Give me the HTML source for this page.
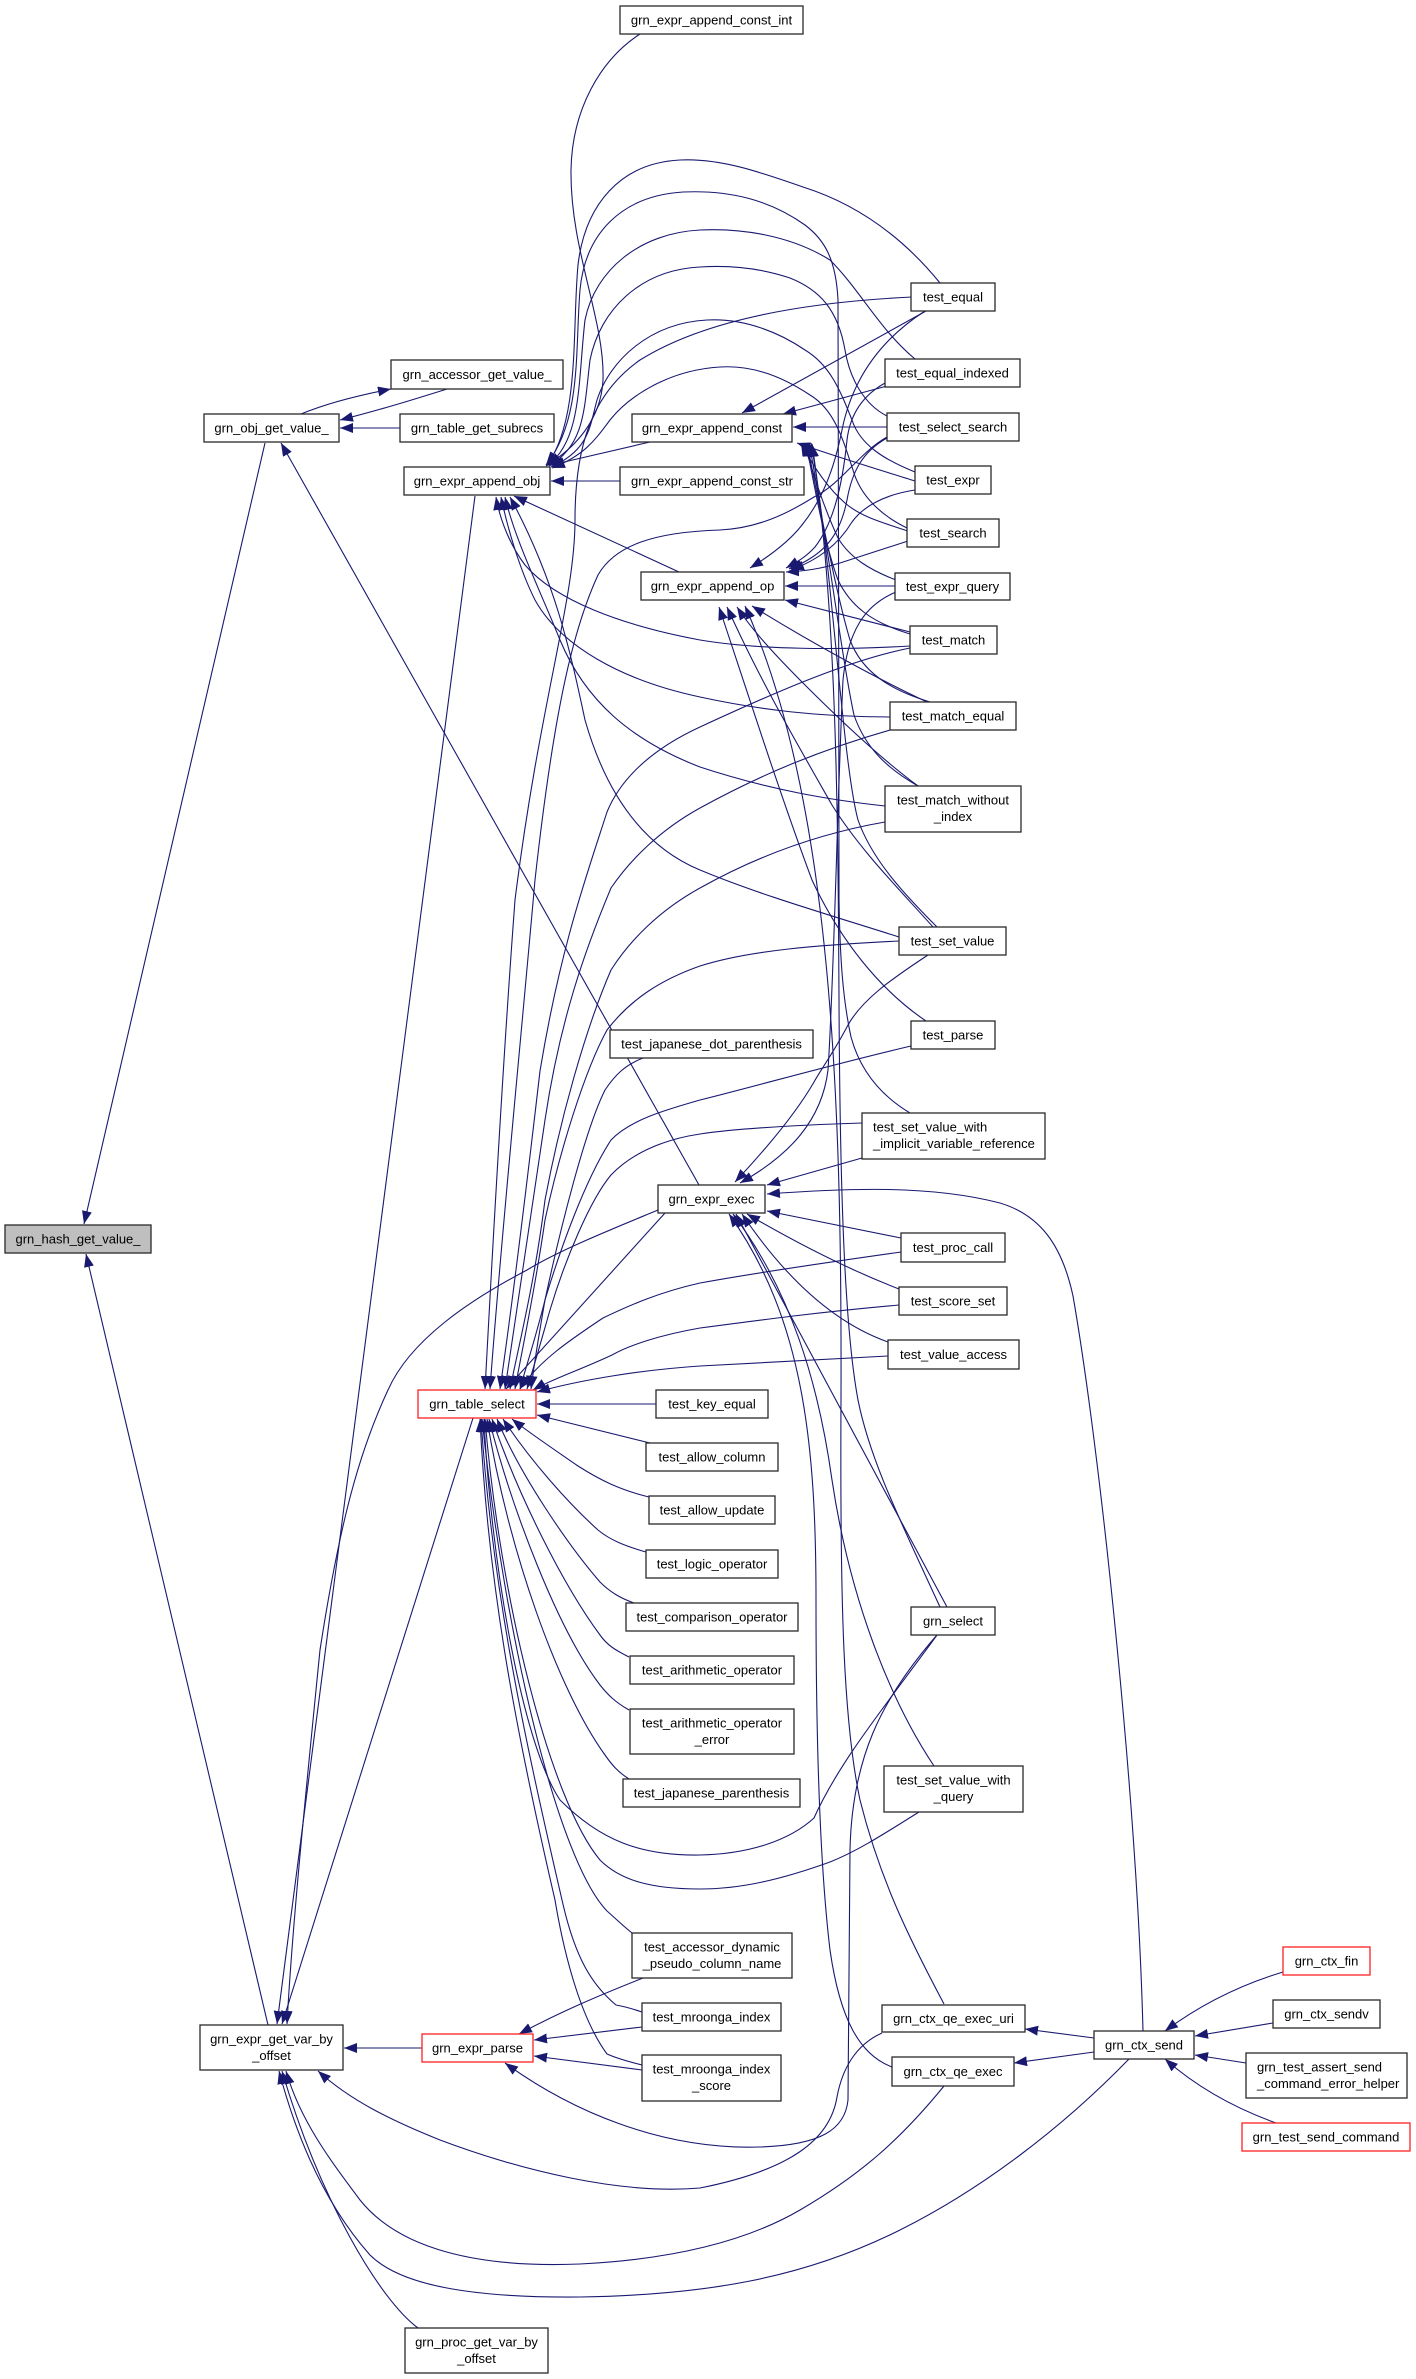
<!DOCTYPE html>
<html>
<head>
<meta charset="utf-8">
<style>
html,body{margin:0;padding:0;background:#fff;}
svg{display:block;}
text{font-family:"Liberation Sans",Arial,sans-serif;font-size:13px;fill:#000;}
.e{fill:none;stroke:#191970;stroke-width:1.1;marker-end:url(#a);}
.n{fill:#fff;stroke:#2a2a2a;stroke-width:1.3;}
.r{fill:#fff;stroke:#ff2020;stroke-width:1.3;}
</style>
</head>
<body>
<svg width="1416" height="2379" viewBox="0 0 1416 2379" xmlns="http://www.w3.org/2000/svg">
<defs>
<marker id="a" viewBox="0 0 13 10" refX="13" refY="5" markerWidth="13" markerHeight="10" markerUnits="userSpaceOnUse" orient="auto">
<path d="M0,0 L13,5 L0,10 z" fill="#191970"/>
</marker>
</defs>
<rect x="0" y="0" width="1416" height="2379" fill="#fff"/>

<!-- edges -->
<g>
<!-- hash callers -->
<path class="e" d="M265,443 L84,1224"/>
<path class="e" d="M268,2025 L86,1254"/>
<!-- obj_get_value -->
<path class="e" d="M447,389 C415,399 380,410 340,420"/>
<path class="e" d="M301,414 C325,404 355,396 391,389"/>
<path class="e" d="M400,428 L340,428"/>
<path class="e" d="M699,1185 L281,443"/>
<!-- append_obj -->
<path class="e" d="M640,34 C600,60 572,110 571,170 C570,250 605,320 603,380 C601,420 575,448 546,466"/>
<path class="e" d="M620,481 L551,481"/>
<path class="e" d="M650,442 L551,465"/>
<path class="e" d="M679,572 L514,496"/>
<path class="e" d="M940,283 C905,240 860,205 803,187 C760,172 720,158 680,160 C620,163 585,205 578,265 C572,330 580,420 547,465"/>
<path class="e" d="M915,359 C880,330 860,290 830,260 C790,235 740,228 700,230 C640,233 595,270 585,320 C578,380 582,440 548,465"/>
<path class="e" d="M887,416 C865,405 850,380 845,350 C838,310 820,290 790,278 C760,268 730,265 700,267 C640,270 600,310 590,360 C584,410 585,445 549,466"/>
<path class="e" d="M915,472 C885,460 860,445 852,420 C840,390 830,365 805,350 C780,333 745,318 707,320 C650,323 610,360 597,400 C590,425 590,450 551,467"/>
<path class="e" d="M907,528 C880,515 860,495 853,470 C843,440 835,410 810,395 C780,375 750,365 720,367 C670,370 630,395 610,420 C595,440 585,455 552,468"/>
<path class="e" d="M910,1113 C880,1095 860,1070 851,1037 C843,1000 840,960 839,900 C838,700 840,400 838,300 C836,260 825,240 805,225 C770,200 730,190 683,192 C620,196 585,235 580,290 C575,350 582,420 546,465"/>
<path class="e" d="M910,646 C840,650 760,650 700,640 C620,625 555,600 525,565 C510,545 500,520 496,497"/>
<path class="e" d="M890,717 C820,717 760,710 700,697 C620,680 560,645 535,600 C520,570 508,530 501,497"/>
<path class="e" d="M885,806 C830,800 770,790 700,767 C630,740 585,700 560,640 C540,590 515,540 505,497"/>
<path class="e" d="M899,937 C830,915 760,895 700,870 C640,845 605,790 585,720 C570,650 555,580 510,497"/>
<!-- append_const -->
<path class="e" d="M926,311 L742,413"/>
<path class="e" d="M887,386 L783,414"/>
<path class="e" d="M887,427 L793,427"/>
<path class="e" d="M915,481 C880,470 840,458 797,443"/>
<path class="e" d="M908,531 C880,522 860,516 845,503 C830,490 815,470 801,443"/>
<path class="e" d="M896,580 C870,570 850,558 838,538 C825,510 815,480 804,443"/>
<path class="e" d="M910,634 C870,622 850,605 838,580 C825,545 815,490 806,443"/>
<path class="e" d="M930,702 C890,690 862,672 850,640 C838,600 822,520 807,443"/>
<path class="e" d="M918,786 C890,770 866,750 854,715 C842,660 826,530 809,443"/>
<path class="e" d="M937,927 C905,895 872,860 858,820 C842,760 832,560 811,443"/>
<path class="e" d="M940,1607 C900,1520 870,1460 858,1400 C845,1330 840,1200 839,1000 C838,800 836,600 812,444"/>
<!-- append_op -->
<path class="e" d="M925,311 C880,340 852,380 842,430 C834,470 822,500 802,525 C788,543 768,557 750,568"/>
<path class="e" d="M887,382 C862,395 850,415 847,440 C842,490 832,525 815,547 C805,558 795,563 786,568"/>
<path class="e" d="M887,438 C862,452 852,472 847,500 C840,535 825,555 789,569"/>
<path class="e" d="M915,490 C882,495 862,508 852,522 C838,545 818,560 791,570"/>
<path class="e" d="M908,541 C880,550 858,557 840,563 C820,569 805,571 786,572"/>
<path class="e" d="M895,586 L785,586"/>
<path class="e" d="M910,632 L785,600"/>
<path class="e" d="M927,702 C880,680 815,645 752,606"/>
<path class="e" d="M918,786 C880,758 840,720 805,685 C775,655 752,630 737,607"/>
<path class="e" d="M933,927 C900,890 860,850 832,805 C795,740 760,680 727,607"/>
<path class="e" d="M926,1021 C880,990 840,940 812,880 C782,800 750,700 719,607"/>
<path class="e" d="M944,2004 C910,1940 880,1880 860,1800 C843,1720 840,1600 841,1400 C842,1100 832,800 745,606"/>
<!-- grn_expr_exec -->
<path class="e" d="M928,955 C890,980 862,1000 848,1025 C835,1050 822,1068 814,1082 C795,1115 765,1150 735,1182"/>
<path class="e" d="M896,592 C865,605 848,630 843,680 C838,780 834,980 828,1070 C822,1120 790,1155 740,1183"/>
<path class="e" d="M862,1158 L767,1185"/>
<path class="e" d="M1143,2031 C1137,1800 1100,1450 1073,1296 C1062,1245 1040,1215 1000,1203 C930,1185 850,1188 767,1194"/>
<path class="e" d="M901,1238 L767,1211"/>
<path class="e" d="M899,1289 C850,1270 800,1245 747,1214"/>
<path class="e" d="M888,1342 C840,1325 790,1285 742,1214"/>
<path class="e" d="M947,1607 L736,1214"/>
<path class="e" d="M934,1766 C890,1700 850,1600 832,1480 C818,1380 790,1290 733,1214"/>
<path class="e" d="M892,2067 C860,2055 840,2020 830,1950 C818,1850 816,1700 816,1600 C816,1450 805,1320 729,1214"/>
<!-- grn_table_select upper callers -->
<path class="e" d="M912,297 C850,300 720,310 640,360 C590,395 575,450 575,520 C575,600 540,700 515,900 C500,1100 490,1300 485,1389"/>
<path class="e" d="M887,437 C860,452 840,485 814,497 C790,512 760,528 720,530 C655,532 615,545 598,575 C575,625 555,700 535,880 C520,1050 500,1250 490,1389"/>
<path class="e" d="M910,648 C850,660 780,690 700,727 C650,750 620,780 607,812 C585,880 560,950 540,1071 C525,1200 510,1320 500,1389"/>
<path class="e" d="M890,730 C820,750 760,775 700,808 C660,830 630,860 611,888 C585,950 560,1020 545,1120 C530,1220 515,1320 505,1389"/>
<path class="e" d="M885,822 C810,835 750,860 700,888 C660,910 630,940 611,970 C585,1030 560,1120 545,1200 C535,1280 520,1340 510,1389"/>
<path class="e" d="M899,941 C820,945 750,950 700,966 C660,980 630,1000 607,1030 C585,1070 560,1150 545,1220 C535,1290 522,1350 515,1389"/>
<path class="e" d="M911,1046 C830,1065 760,1085 700,1100 C665,1110 630,1120 611,1140 C585,1180 560,1250 545,1300 C535,1340 525,1370 520,1389"/>
<path class="e" d="M862,1123 C800,1125 740,1128 700,1134 C660,1140 630,1155 611,1175 C590,1200 565,1260 550,1310 C540,1345 533,1370 527,1389"/>
<path class="e" d="M643,1058 C625,1065 615,1075 605,1090 C585,1130 560,1230 545,1300 C538,1340 534,1365 531,1389"/>
<path class="e" d="M665,1213 L506,1389"/>
<path class="e" d="M901,1252 C830,1262 760,1272 700,1283 C660,1292 630,1305 603,1318 C570,1340 540,1360 520,1389"/>
<path class="e" d="M899,1305 C820,1312 760,1320 700,1328 C660,1335 630,1345 612,1355 C580,1370 550,1380 533,1390"/>
<path class="e" d="M888,1356 C820,1360 760,1363 700,1366 C640,1370 580,1380 537,1392"/>
<!-- grn_table_select lower callers -->
<path class="e" d="M656,1404 L537,1404"/>
<path class="e" d="M650,1443 L537,1415"/>
<path class="e" d="M649,1497 C620,1490 600,1480 578,1466 C555,1450 528,1432 512,1419"/>
<path class="e" d="M646,1552 C625,1546 610,1540 598,1530 C568,1503 530,1460 503,1419"/>
<path class="e" d="M634,1603 C620,1598 610,1592 600,1582 C568,1545 520,1475 497,1419"/>
<path class="e" d="M629,1657 C615,1650 607,1645 600,1635 C563,1585 518,1495 492,1419"/>
<path class="e" d="M629,1710 C615,1702 608,1695 600,1685 C558,1630 512,1510 489,1419"/>
<path class="e" d="M629,1779 C618,1772 612,1765 605,1755 C558,1690 508,1550 487,1419"/>
<path class="e" d="M937,1635 C890,1700 840,1760 814,1818 C790,1840 750,1854 700,1855 C640,1856 600,1840 560,1800 C520,1740 490,1550 484,1419"/>
<path class="e" d="M919,1812 C890,1830 860,1850 830,1862 C780,1880 740,1889 700,1889 C650,1889 620,1880 600,1860 C550,1800 500,1600 485,1419"/>
<path class="e" d="M632,1933 C622,1925 615,1918 607,1911 C558,1860 505,1640 482,1419"/>
<path class="e" d="M642,2012 C630,2008 622,2006 616,2005 C592,1985 575,1958 562,1900 C525,1740 492,1590 481,1419"/>
<path class="e" d="M642,2065 C630,2062 616,2058 607,2054 C582,2020 565,1960 555,1900 C518,1740 488,1590 480,1419"/>
<!-- grn_expr_parse callers -->
<path class="e" d="M643,1978 C600,1995 560,2012 519,2034"/>
<path class="e" d="M642,2027 L534,2040"/>
<path class="e" d="M642,2070 L534,2056"/>
<path class="e" d="M937,1635 C880,1700 852,1760 850,1850 L848,2100 C845,2130 820,2145 760,2147 C660,2150 570,2110 505,2063"/>
<!-- get_var_by_offset callers -->
<path class="e" d="M422,2048 L344,2048"/>
<path class="e" d="M475,496 L277,2024"/>
<path class="e" d="M473,1418 L282,2024"/>
<path class="e" d="M658,1210 C610,1230 560,1250 527,1270 C470,1300 410,1340 388,1390 C360,1450 340,1520 320,1650 C305,1800 292,1930 287,2024"/>
<path class="e" d="M882,2033 C855,2045 842,2070 837,2097 C830,2140 790,2170 700,2188 C620,2195 520,2170 440,2140 C390,2120 350,2100 318,2071"/>
<path class="e" d="M944,2086 C900,2140 860,2175 800,2210 C740,2245 660,2260 580,2264 C480,2268 400,2250 360,2200 C330,2160 300,2120 286,2071"/>
<path class="e" d="M1129,2059 C1060,2130 980,2190 900,2230 C800,2280 700,2295 580,2297 C470,2298 400,2285 370,2255 C330,2210 300,2150 279,2071"/>
<path class="e" d="M418,2328 C380,2300 320,2200 282,2071"/>
<!-- ctx_send -->
<path class="e" d="M1283,1972 C1240,1985 1200,2005 1165,2031"/>
<path class="e" d="M1273,2023 L1195,2036"/>
<path class="e" d="M1246,2063 L1195,2055"/>
<path class="e" d="M1276,2123 C1240,2110 1200,2090 1165,2059"/>
<path class="e" d="M1094,2038 L1025,2029"/>
<path class="e" d="M1094,2052 L1014,2063"/>
</g>

<!-- nodes -->
<g>
<rect x="5" y="1225" width="146" height="28" fill="#bfbfbf" stroke="#2a2a2a" stroke-width="1.3"/>
<text x="78" y="1243.5" text-anchor="middle">grn_hash_get_value_</text>

<rect class="n" x="204" y="414" width="135" height="28"/>
<text x="271.5" y="432.5" text-anchor="middle">grn_obj_get_value_</text>

<rect class="n" x="391" y="360" width="172" height="29"/>
<text x="477" y="379" text-anchor="middle">grn_accessor_get_value_</text>

<rect class="n" x="400" y="414" width="154" height="28"/>
<text x="477" y="432.5" text-anchor="middle">grn_table_get_subrecs</text>

<rect class="n" x="404" y="467" width="146" height="28"/>
<text x="477" y="485.5" text-anchor="middle">grn_expr_append_obj</text>

<rect class="n" x="620" y="6" width="183" height="28"/>
<text x="711.5" y="24.5" text-anchor="middle">grn_expr_append_const_int</text>

<rect class="n" x="632" y="414" width="160" height="28"/>
<text x="712" y="432.5" text-anchor="middle">grn_expr_append_const</text>

<rect class="n" x="620" y="467" width="184" height="28"/>
<text x="712" y="485.5" text-anchor="middle">grn_expr_append_const_str</text>

<rect class="n" x="641" y="572" width="143" height="28"/>
<text x="712.5" y="590.5" text-anchor="middle">grn_expr_append_op</text>

<rect class="n" x="911" y="283" width="84" height="28"/>
<text x="953" y="301.5" text-anchor="middle">test_equal</text>

<rect class="n" x="885" y="359" width="135" height="28"/>
<text x="952.5" y="377.5" text-anchor="middle">test_equal_indexed</text>

<rect class="n" x="887" y="413" width="132" height="28"/>
<text x="953" y="431.5" text-anchor="middle">test_select_search</text>

<rect class="n" x="915" y="466" width="76" height="28"/>
<text x="953" y="484.5" text-anchor="middle">test_expr</text>

<rect class="n" x="907" y="519" width="92" height="28"/>
<text x="953" y="537.5" text-anchor="middle">test_search</text>

<rect class="n" x="895" y="573" width="115" height="27"/>
<text x="952.5" y="591" text-anchor="middle">test_expr_query</text>

<rect class="n" x="910" y="626" width="87" height="28"/>
<text x="953.5" y="644.5" text-anchor="middle">test_match</text>

<rect class="n" x="890" y="702" width="126" height="28"/>
<text x="953" y="720.5" text-anchor="middle">test_match_equal</text>

<rect class="n" x="885" y="786" width="136" height="46"/>
<text x="953" y="804.5" text-anchor="middle">test_match_without</text>
<text x="953" y="821" text-anchor="middle">_index</text>

<rect class="n" x="899" y="927" width="107" height="28"/>
<text x="952.5" y="945.5" text-anchor="middle">test_set_value</text>

<rect class="n" x="911" y="1021" width="84" height="28"/>
<text x="953" y="1039.5" text-anchor="middle">test_parse</text>

<rect class="n" x="862" y="1113" width="183" height="46"/>
<text x="873" y="1131.5">test_set_value_with</text>
<text x="873" y="1148">_implicit_variable_reference</text>

<rect class="n" x="610" y="1030" width="203" height="28"/>
<text x="711.5" y="1048.5" text-anchor="middle">test_japanese_dot_parenthesis</text>

<rect class="n" x="658" y="1185" width="107" height="28"/>
<text x="711.5" y="1203.5" text-anchor="middle">grn_expr_exec</text>

<rect class="n" x="901" y="1233" width="104" height="29"/>
<text x="953" y="1252" text-anchor="middle">test_proc_call</text>

<rect class="n" x="899" y="1287" width="108" height="28"/>
<text x="953" y="1305.5" text-anchor="middle">test_score_set</text>

<rect class="n" x="888" y="1340" width="131" height="29"/>
<text x="953.5" y="1359" text-anchor="middle">test_value_access</text>

<rect class="r" x="418" y="1390" width="118" height="28"/>
<text x="477" y="1408.5" text-anchor="middle">grn_table_select</text>

<rect class="n" x="656" y="1390" width="112" height="28"/>
<text x="712" y="1408.5" text-anchor="middle">test_key_equal</text>

<rect class="n" x="646" y="1443" width="132" height="28"/>
<text x="712" y="1461.5" text-anchor="middle">test_allow_column</text>

<rect class="n" x="649" y="1496" width="126" height="28"/>
<text x="712" y="1514.5" text-anchor="middle">test_allow_update</text>

<rect class="n" x="646" y="1550" width="132" height="28"/>
<text x="712" y="1568.5" text-anchor="middle">test_logic_operator</text>

<rect class="n" x="626" y="1603" width="172" height="28"/>
<text x="712" y="1621.5" text-anchor="middle">test_comparison_operator</text>

<rect class="n" x="630" y="1656" width="164" height="28"/>
<text x="712" y="1674.5" text-anchor="middle">test_arithmetic_operator</text>

<rect class="n" x="630" y="1709" width="164" height="45"/>
<text x="712" y="1727.5" text-anchor="middle">test_arithmetic_operator</text>
<text x="712" y="1744" text-anchor="middle">_error</text>

<rect class="n" x="623" y="1779" width="177" height="28"/>
<text x="711.5" y="1797.5" text-anchor="middle">test_japanese_parenthesis</text>

<rect class="n" x="911" y="1607" width="84" height="28"/>
<text x="953" y="1625.5" text-anchor="middle">grn_select</text>

<rect class="n" x="884" y="1766" width="139" height="46"/>
<text x="953.5" y="1784.5" text-anchor="middle">test_set_value_with</text>
<text x="953.5" y="1801" text-anchor="middle">_query</text>

<rect class="n" x="632" y="1933" width="160" height="45"/>
<text x="712" y="1951.5" text-anchor="middle">test_accessor_dynamic</text>
<text x="712" y="1968" text-anchor="middle">_pseudo_column_name</text>

<rect class="n" x="642" y="2003" width="139" height="28"/>
<text x="711.5" y="2021.5" text-anchor="middle">test_mroonga_index</text>

<rect class="n" x="642" y="2055" width="139" height="46"/>
<text x="711.5" y="2073.5" text-anchor="middle">test_mroonga_index</text>
<text x="711.5" y="2090" text-anchor="middle">_score</text>

<rect class="n" x="200" y="2025" width="143" height="45"/>
<text x="271.5" y="2043.5" text-anchor="middle">grn_expr_get_var_by</text>
<text x="271.5" y="2060" text-anchor="middle">_offset</text>

<rect class="r" x="422" y="2034" width="111" height="28"/>
<text x="477.5" y="2052.5" text-anchor="middle">grn_expr_parse</text>

<rect class="n" x="405" y="2328" width="143" height="45"/>
<text x="476.5" y="2346.5" text-anchor="middle">grn_proc_get_var_by</text>
<text x="476.5" y="2363" text-anchor="middle">_offset</text>

<rect class="n" x="882" y="2005" width="143" height="27"/>
<text x="953.5" y="2023" text-anchor="middle">grn_ctx_qe_exec_uri</text>

<rect class="n" x="892" y="2057" width="122" height="29"/>
<text x="953" y="2076" text-anchor="middle">grn_ctx_qe_exec</text>

<rect class="n" x="1094" y="2031" width="100" height="28"/>
<text x="1144" y="2049.5" text-anchor="middle">grn_ctx_send</text>

<rect class="r" x="1283" y="1947" width="87" height="28"/>
<text x="1326.5" y="1965.5" text-anchor="middle">grn_ctx_fin</text>

<rect class="n" x="1273" y="2000" width="107" height="28"/>
<text x="1326.5" y="2018.5" text-anchor="middle">grn_ctx_sendv</text>

<rect class="n" x="1246" y="2053" width="161" height="45"/>
<text x="1257" y="2071.5">grn_test_assert_send</text>
<text x="1257" y="2088">_command_error_helper</text>

<rect class="r" x="1242" y="2123" width="168" height="28"/>
<text x="1326" y="2141.5" text-anchor="middle">grn_test_send_command</text>
</g>
</svg>
</body>
</html>
